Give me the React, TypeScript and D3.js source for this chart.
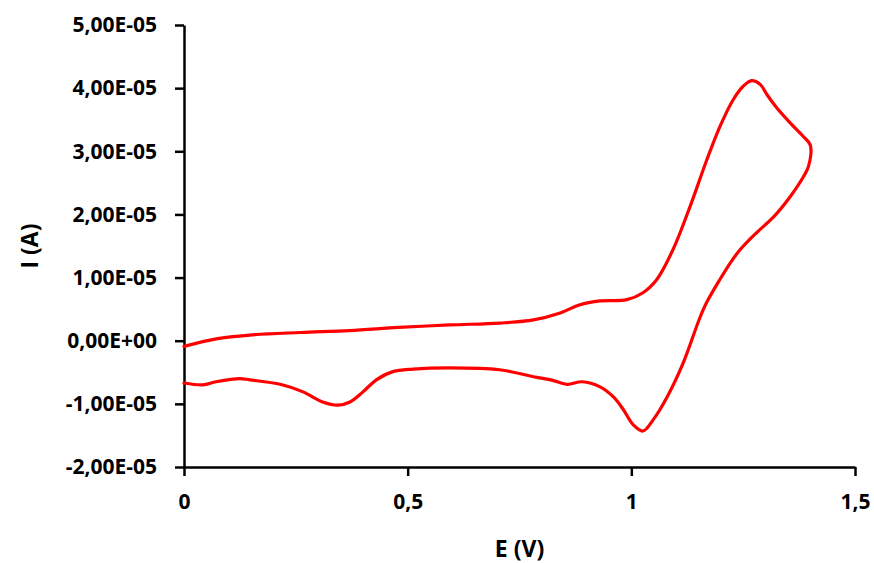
import React, { useEffect, useRef } from 'react'
import * as d3 from 'd3'

// potential sweep (V) and current (A), forward scan then reverse scan
const potential = [
  0, 0.072, 0.147, 0.26, 0.37, 0.48, 0.594, 0.706, 0.781, 0.841, 0.885, 0.93, 0.99,
  1.026, 1.057, 1.093, 1.131, 1.168, 1.198, 1.228, 1.25, 1.269, 1.288, 1.303, 1.325,
  1.355, 1.385, 1.4,
  1.396, 1.385, 1.355, 1.318, 1.28, 1.243, 1.221, 1.198, 1.168, 1.153, 1.116, 1.08,
  1.049, 1.026, 1.004, 0.982, 0.96, 0.93, 0.89, 0.856, 0.82, 0.781, 0.706, 0.594,
  0.512, 0.467, 0.43, 0.4, 0.371, 0.344, 0.31, 0.266, 0.215, 0.147, 0.125, 0.072,
  0.042, 0
]
const current = [
  -0.09e-5, 0.03e-5, 0.09e-5, 0.13e-5, 0.16e-5, 0.21e-5, 0.25e-5, 0.28e-5, 0.33e-5, 0.44e-5, 0.57e-5, 0.63e-5, 0.65e-5,
  0.76e-5, 0.97e-5, 1.44e-5, 2.12e-5, 2.85e-5, 3.39e-5, 3.82e-5, 4.03e-5, 4.12e-5, 4.06e-5, 3.9e-5, 3.69e-5,
  3.45e-5, 3.23e-5, 3.1e-5,
  2.76e-5, 2.6e-5, 2.28e-5, 1.96e-5, 1.71e-5, 1.44e-5, 1.23e-5, 0.97e-5, 0.6e-5, 0.36e-5, -0.35e-5, -0.89e-5,
  -1.25e-5, -1.43e-5, -1.33e-5, -1.09e-5, -0.89e-5, -0.73e-5, -0.65e-5, -0.69e-5, -0.62e-5, -0.57e-5, -0.46e-5, -0.43e-5,
  -0.45e-5, -0.49e-5, -0.62e-5, -0.81e-5, -0.97e-5, -1.02e-5, -0.97e-5, -0.81e-5, -0.69e-5, -0.62e-5, -0.6e-5, -0.65e-5,
  -0.7e-5, -0.67e-5
]
const xTicks = [0, 0.5, 1, 1.5]
const yTicks = [-2e-5, -1e-5, 0, 1e-5, 2e-5, 3e-5, 4e-5, 5e-5]

const width = 874
const height = 563
const margin = { top: 25, right: 19, bottom: 96, left: 184 }
const font = '"Open Sans", Lato, sans-serif'

const sci = (v: number) => {
  const [m, e] = v.toExponential(2).split('e')
  const n = Math.abs(+e)
  return m.replace('.', ',') + 'E' + (+e < 0 ? '-' : '+') + String(n).padStart(2, '0')
}

const App = () => {
  const ref = useRef<SVGSVGElement>(null)

  useEffect(() => {
    const x = d3.scaleLinear()
      .domain([0, 1.5])
      .range([margin.left, width - margin.right])
    const y = d3.scaleLinear()
      .domain([-2e-5, 5e-5])
      .range([height - margin.bottom, margin.top])

    const svg = d3.select(ref.current)
    svg.selectAll('*').remove()

    svg.append('g')
      .attr('transform', `translate(0,${height - margin.bottom})`)
      .call(d3.axisBottom(x).tickValues(xTicks).tickSize(9).tickSizeOuter(0)
        .tickFormat(d => String(d).replace('.', ',')))
      .call(g => g.selectAll('path, line').attr('stroke', '#000').attr('stroke-width', 2.5))
      .call(g => g.selectAll('text')
        .attr('font-family', font).attr('font-weight', 'bold').attr('font-size', 21)
        .attr('fill', '#000').attr('dy', '1.45em'))

    svg.append('g')
      .attr('transform', `translate(${margin.left},0)`)
      .call(d3.axisLeft(y).tickValues(yTicks).tickSize(9).tickSizeOuter(0).tickFormat(d => sci(+d)))
      .call(g => g.selectAll('path, line').attr('stroke', '#000').attr('stroke-width', 2.5))
      .call(g => g.selectAll('text')
        .attr('font-family', font).attr('font-weight', 'bold').attr('font-size', 21)
        .attr('fill', '#000').attr('x', -27))

    const pts = potential.map((e, i) => [e, current[i]] as [number, number])
    const line = d3.line<[number, number]>()
      .x(d => x(d[0]))
      .y(d => y(d[1]))
      .curve(d3.curveCatmullRom.alpha(0.5))

    svg.append('path')
      .datum(pts)
      .attr('fill', 'none')
      .attr('stroke', '#ff0000')
      .attr('stroke-width', 3.2)
      .attr('stroke-linejoin', 'round')
      .attr('stroke-linecap', 'round')
      .attr('d', line)

    svg.append('text')
      .attr('x', (margin.left + width - margin.right) / 2)
      .attr('y', 557)
      .attr('text-anchor', 'middle')
      .attr('font-family', font).attr('font-weight', 'bold').attr('font-size', 23)
      .text('E (V)')

    svg.append('text')
      .attr('transform', `translate(38,${(margin.top + height - margin.bottom) / 2}) rotate(-90)`)
      .attr('text-anchor', 'middle')
      .attr('font-family', font).attr('font-weight', 'bold').attr('font-size', 23)
      .text('I (A)')
  }, [])

  return (
    <svg ref={ref} width={width} height={height}
      style={{ position: 'absolute', left: 0, top: 0, background: '#fff' }} />
  )
}

export default App
